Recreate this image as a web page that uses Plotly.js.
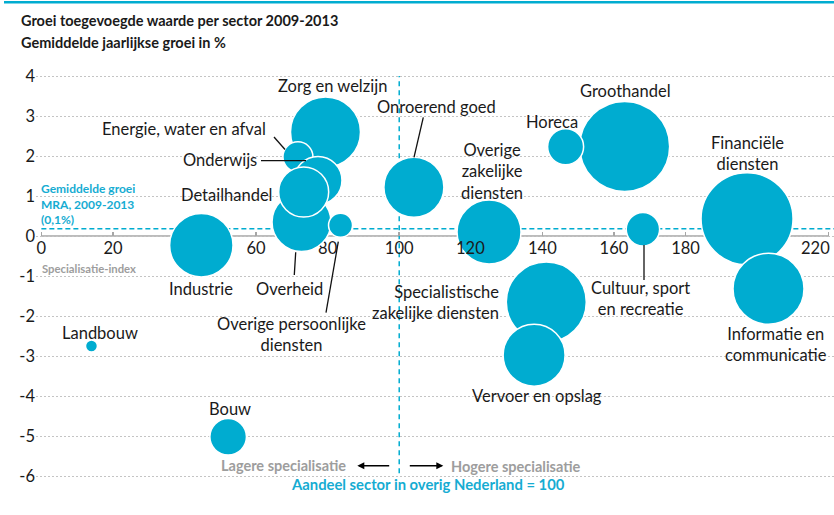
<!DOCTYPE html>
<html>
<head>
<meta charset="utf-8">
<script src="https://cdn.plot.ly/plotly-3.0.1.min.js"></script>
<style>
  html, body { margin: 0; padding: 0; background: #ffffff; }
  #chart { width: 834px; height: 515px; }
</style>
</head>
<body>
<div id="chart"></div>
<script>
// ---------------- DATA ----------------
const sectors = [
  "Zorg en welzijn", "Energie, water en afval", "Overheid", "Onderwijs", "Detailhandel",
  "Overige persoonlijke diensten", "Industrie", "Onroerend goed", "Groothandel", "Horeca",
  "Overige zakelijke diensten", "Cultuur, sport en recreatie", "Financiële diensten",
  "Informatie en communicatie", "Specialistische zakelijke diensten", "Vervoer en opslag",
  "Landbouw", "Bouw"
];
// Specialisatie-index (Aandeel sector in overig Nederland = 100)
const specIndex = [79.4, 71.7, 72.7, 77.3, 73.3, 83.6, 44.7, 104.1, 163.0, 146.5,
                   125.1, 168.1, 197.2, 203.2, 141.1, 137.7, 14.0, 52.2];
// Gemiddelde jaarlijkse groei in %
const growth = [2.6, 1.98, 0.35, 1.39, 1.1, 0.27, -0.23, 1.22, 2.24, 2.23,
                0.1, 0.17, 0.43, -1.32, -1.65, -2.98, -2.75, -5.02];
// Relative size of each sector (bubble area)
const sectorSize = [122.5, 22.5, 87, 57.6, 62.5, 14.4, 100.5, 90, 202.5, 32.4,
                    102.4, 27.9, 211.6, 126, 160, 96, 3.6, 33.5];
// Labels as shown in the chart
const labelText = [
  "Zorg en welzijn", "Energie, water en afval", "Overheid", "Onderwijs", "Detailhandel",
  "Overige persoonlijke<br>diensten", "Industrie", "Onroerend goed", "Groothandel", "Horeca",
  "Overige<br>zakelijke<br>diensten", "Cultuur, sport<br>en recreatie", "Financiële<br>diensten",
  "Informatie en<br>communicatie", "Specialistische<br>zakelijke diensten", "Vervoer en opslag",
  "Landbouw", "Bouw"
];
const mraGrowth = 0.18;      // Gemiddelde groei MRA (drawn position)
const nlIndex = 100;         // Aandeel sector in overig Nederland = 100
const xTicks = [0, 20, 40, 60, 80, 100, 120, 140, 160, 180, 200, 220];
const yTicks = [-6, -5, -4, -3, -2, -1, 0, 1, 2, 3, 4];
const xTicksOnTop = [120];   // tick labels printed above the bubbles
const xTickEdge = 220;       // tick label set left of its tick at the edge

// ---------------- STYLE / LAYOUT ----------------
const W = 834, H = 515;
const M = {l: 36, r: 0, t: 70, b: 37};
const xr = [-1.5, 221.5], yr = [-6.05, 4.15];
const plotW = W - M.l - M.r, plotH = H - M.t - M.b;
const px2x = p => xr[0] + (p - M.l) / plotW * (xr[1] - xr[0]);
const px2y = p => yr[1] - (p - M.t) / plotH * (yr[1] - yr[0]);
const pxPaperX = p => (p - M.l) / plotW;
const pxPaperY = p => (H - M.b - p) / plotH;

const CYAN = "#00acd0";
const TXT = "#1a1a1a";
const GRAY = "#9d9d9d";
const FONT = "Lato, 'Open Sans', sans-serif";
const LABEL_SIZE = 16.5;
const TICK_SIZE = 16.5;
const TICK_LABEL_PY = 248;

// label offsets in pixels relative to bubble centre [dx, dy, xanchor, align]
const labelOffsets = [
  [7, -46, "center", "center"], [-114, -28, "center", "center"], [-12, 67, "center", "center"],
  [-98, -20, "center", "center"], [-77, 3, "center", "center"], [-49, 109, "center", "center"],
  [0, 44, "center", "center"], [23, -80, "center", "center"], [1, -55, "center", "center"],
  [-14, -25, "center", "center"], [3, -61, "center", "center"], [-2, 69, "center", "center"],
  [0, -65, "center", "center"], [7.5, 56, "center", "center"], [-45.7, 0, "right", "right"],
  [3, 41, "center", "center"], [9, -13, "center", "center"], [2, -28, "center", "center"]
];
// leader lines in pixel coords
const leaders = [
  [274, 137, 285, 149.5],
  [261, 160.7, 306, 160.7],
  [295.7, 252.3, 294.3, 275],
  [338.3, 241.7, 326, 312.7],
  [423.3, 117.3, 414, 157.3],
  [644, 245, 644, 280]
];

const trace = {
  type: "scatter",
  mode: "markers",
  x: specIndex,
  y: growth,
  text: sectors,
  hoverinfo: "text",
  marker: {
    size: sectorSize,
    sizemode: "area",
    sizeref: 0.05,
    sizemin: 0,
    color: CYAN,
    opacity: 1,
    line: {color: "#ffffff", width: 1.5}
  }
};

const annotations = [];
sectors.forEach((s, i) => {
  const o = labelOffsets[i];
  annotations.push({
    x: specIndex[i], y: growth[i], xref: "x", yref: "y",
    xshift: o[0], yshift: -o[1],
    text: labelText[i], showarrow: false,
    xanchor: o[2], yanchor: "middle", align: o[3],
    font: {family: FONT, size: LABEL_SIZE, color: TXT}
  });
});

function pxAnn(text, px, py, opts) {
  return Object.assign({
    text: text, xref: "paper", yref: "paper",
    x: pxPaperX(px), y: pxPaperY(py),
    showarrow: false, xanchor: "left", yanchor: "middle", align: "left"
  }, opts);
}
annotations.push(pxAnn("<b>Groei toegevoegde waarde per sector 2009-2013</b>", 19, 20,
  {font: {family: FONT, size: 14.5, color: TXT}}));
annotations.push(pxAnn("<b>Gemiddelde jaarlijkse groei in %</b>", 19, 42.5,
  {font: {family: FONT, size: 14.5, color: TXT}}));
annotations.push(pxAnn("<b>Gemiddelde groei<br>MRA, 2009-2013<br>(0,1%)</b>", 39, 204,
  {font: {family: FONT, size: 12, color: "#16acd2"}}));
annotations.push(pxAnn("<b>Specialisatie-index</b>", 40, 268.7,
  {font: {family: FONT, size: 11.3, color: GRAY}}));
annotations.push(pxAnn("<b>Lagere specialisatie</b>", 283.7, 465.7,
  {xanchor: "center", font: {family: FONT, size: 14.5, color: GRAY}}));
annotations.push(pxAnn("<b>Hogere specialisatie</b>", 516.3, 466.7,
  {xanchor: "center", font: {family: FONT, size: 14.5, color: GRAY}}));
annotations.push(pxAnn("<b>Aandeel sector in overig Nederland = 100</b>", 427.5, 484.3,
  {xanchor: "center", font: {family: FONT, size: 14.8, color: "#16acd2"}}));
// last x tick label sits left of its tick (edge of the picture)
annotations.push({text: String(xTickEdge), xref: "x", yref: "paper", x: xTickEdge, xshift: 3,
  y: pxPaperY(TICK_LABEL_PY), showarrow: false, xanchor: "right", yanchor: "middle",
  font: {family: FONT, size: TICK_SIZE, color: TXT}});
// tick labels drawn over the bubbles
xTicksOnTop.forEach(v => annotations.push({text: String(v), xref: "x", yref: "paper", x: v,
  y: pxPaperY(TICK_LABEL_PY), showarrow: false, xanchor: "center", yanchor: "middle",
  font: {family: FONT, size: TICK_SIZE, color: TXT}}));
// arrows
annotations.push({x: px2x(357.3), y: px2y(465.7), xref: "x", yref: "y", text: "",
  showarrow: true, ax: 33.4, ay: 0, arrowhead: 2, arrowsize: 1, arrowwidth: 1.4, arrowcolor: "#000"});
annotations.push({x: px2x(443.3), y: px2y(465.7), xref: "x", yref: "y", text: "",
  showarrow: true, ax: -35, ay: 0, arrowhead: 2, arrowsize: 1, arrowwidth: 1.4, arrowcolor: "#000"});

const shapes = [
  // top bar
  {type: "line", xref: "paper", yref: "paper", x0: pxPaperX(4), x1: 1, y0: pxPaperY(2.2), y1: pxPaperY(2.2),
   line: {color: CYAN, width: 2.4}},
  // x axis line from 0 to 220
  {type: "line", xref: "x", yref: "y", x0: 0, x1: 220, y0: 0, y1: 0, layer: "below",
   line: {color: "#a6a6a6", width: 1.5}},
  // MRA average growth
  {type: "line", xref: "x", yref: "y", x0: 0, x1: xr[1], y0: mraGrowth, y1: mraGrowth, layer: "below",
   line: {color: CYAN, width: 1.5, dash: "5px,3px"}},
  // index = 100
  {type: "line", xref: "x", yref: "y", x0: nlIndex, x1: nlIndex, y0: -5.93, y1: 4.0, layer: "below",
   line: {color: CYAN, width: 1.5, dash: "5px,4px"}}
];
leaders.forEach(l => shapes.push({
  type: "line", xref: "x", yref: "y",
  x0: px2x(l[0]), y0: px2y(l[1]), x1: px2x(l[2]), y1: px2y(l[3]),
  line: {color: "#111", width: 1.3}
}));

const layout = {
  width: W, height: H,
  margin: M,
  paper_bgcolor: "#ffffff", plot_bgcolor: "#ffffff",
  showlegend: false,
  font: {family: FONT, color: TXT},
  xaxis: {
    range: xr, anchor: "free", position: (0 - yr[0]) / (yr[1] - yr[0]),
    tickvals: xTicks,
    ticktext: xTicks.map(v => (v === xTickEdge || xTicksOnTop.includes(v)) ? "" : String(v)),
    ticks: "inside", ticklen: 4, tickwidth: 1.5, tickcolor: "#a6a6a6",
    showgrid: false, zeroline: false, showline: false,
    tickfont: {family: FONT, size: TICK_SIZE, color: TXT},
    layer: "below traces", fixedrange: true
  },
  yaxis: {
    range: yr,
    tickvals: yTicks,
    ticktext: yTicks.map(v => String(v)),
    showgrid: true, gridcolor: "#c4c4c4", gridwidth: 1, griddash: "2px,2px",
    zeroline: false, showline: false, ticks: "",
    tickfont: {family: FONT, size: TICK_SIZE, color: TXT},
    layer: "below traces", fixedrange: true
  },
  annotations: annotations,
  shapes: shapes
};

Plotly.newPlot("chart", [trace], layout, {displayModeBar: false, staticPlot: true});
</script>
</body>
</html>
